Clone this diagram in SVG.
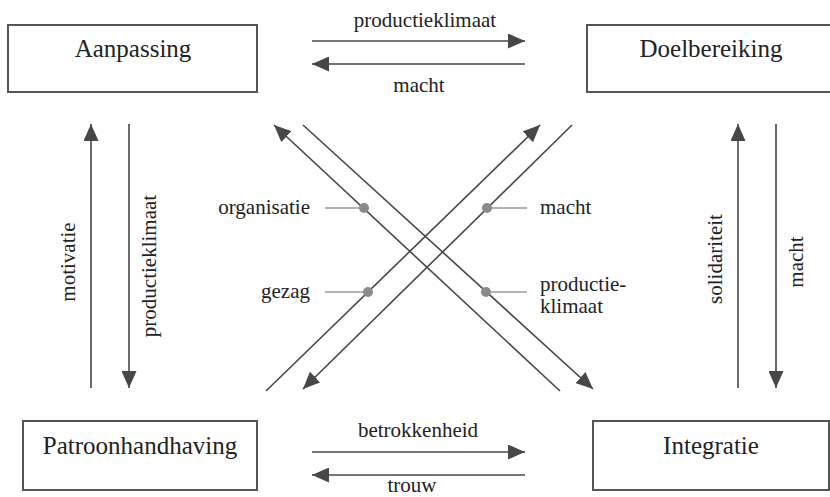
<svg xmlns="http://www.w3.org/2000/svg" width="830" height="497" viewBox="0 0 830 497">
  <style>
    .box { fill: #ffffff; stroke: #555555; stroke-width: 2; }
    text { font-family: "Liberation Serif", "DejaVu Serif", "Times New Roman", serif; fill: #222222; }
    .title { font-size: 25px; text-anchor: middle; }
    .lbl { font-size: 21px; }
    .mid { text-anchor: middle; }
    .end { text-anchor: end; }
    .flow { stroke: #474747; stroke-width: 1.6; fill: none; }
    .arrow { marker-end: url(#head); }
    .lead { stroke: #9a9a9c; stroke-width: 1.6; }
    .dot { fill: #8a8a8d; }
  </style>
  <defs>
    <marker id="head" markerUnits="userSpaceOnUse" markerWidth="17" markerHeight="15" refX="17" refY="7.5" orient="auto">
      <path d="M0,0 L17,7.5 L0,15 Z" fill="#474747"/>
    </marker>
  </defs>

  <rect width="830" height="497" fill="#ffffff"/>

  <!-- four function boxes -->
  <g id="aanpassing">
    <rect class="box" x="8" y="25" width="249" height="67"/>
    <text class="title" x="133" y="57" font-family="Liberation Serif, serif">Aanpassing</text>
  </g>
  <g id="doelbereiking">
    <rect class="box" x="587" y="25" width="250" height="67"/>
    <text class="title" x="711" y="57" font-family="Liberation Serif, serif">Doelbereiking</text>
  </g>
  <g id="patroonhandhaving">
    <rect class="box" x="23" y="421" width="234" height="69"/>
    <text class="title" x="140" y="454" font-family="Liberation Serif, serif">Patroonhandhaving</text>
  </g>
  <g id="integratie">
    <rect class="box" x="593" y="421" width="236" height="69"/>
    <text class="title" x="711" y="454" font-family="Liberation Serif, serif">Integratie</text>
  </g>

  <!-- exchanges between the boxes -->
  <g id="connectors">
    <!-- top pair -->
    <line class="flow arrow" x1="312" y1="41" x2="525" y2="41"/>
    <line class="flow arrow" x1="525" y1="64" x2="312" y2="64"/>
    <!-- bottom pair -->
    <line class="flow arrow" x1="312" y1="452" x2="525" y2="452"/>
    <line class="flow arrow" x1="525" y1="475" x2="312" y2="475"/>
    <!-- left pair -->
    <line class="flow arrow" x1="91" y1="388" x2="91" y2="124"/>
    <line class="flow arrow" x1="129" y1="124" x2="129" y2="388"/>
    <!-- right pair -->
    <line class="flow arrow" x1="738" y1="388" x2="738" y2="124"/>
    <line class="flow arrow" x1="776" y1="124" x2="776" y2="388"/>
    <!-- diagonals -->
    <line class="flow arrow" x1="560" y1="391" x2="274" y2="125"/>
    <line class="flow arrow" x1="303" y1="125" x2="593" y2="389"/>
    <line class="flow arrow" x1="266" y1="391" x2="540" y2="125"/>
    <line class="flow arrow" x1="572" y1="125" x2="303" y2="389"/>
    <!-- leaders to the diagonal labels -->
    <line class="lead" x1="325" y1="208" x2="364" y2="208"/>
    <line class="lead" x1="325" y1="292" x2="368" y2="292"/>
    <line class="lead" x1="487" y1="208" x2="527" y2="208"/>
    <line class="lead" x1="486" y1="292" x2="527" y2="292"/>
    <circle class="dot" cx="364" cy="208" r="5"/>
    <circle class="dot" cx="368" cy="292" r="5"/>
    <circle class="dot" cx="487" cy="208" r="5"/>
    <circle class="dot" cx="486" cy="292" r="5"/>
  </g>

  <!-- labels -->
  <g id="labels">
    <text class="lbl mid" x="425" y="27">productieklimaat</text>
    <text class="lbl mid" x="419" y="92">macht</text>
    <text class="lbl mid" x="418" y="437">betrokkenheid</text>
    <text class="lbl mid" x="412" y="492">trouw</text>
    <text class="lbl mid" transform="translate(75,262) rotate(-90)">motivatie</text>
    <text class="lbl mid" transform="translate(156,266) rotate(-90)">productieklimaat</text>
    <text class="lbl mid" transform="translate(722,259) rotate(-90)">solidariteit</text>
    <text class="lbl mid" transform="translate(803,262) rotate(-90)">macht</text>
    <text class="lbl end" x="310" y="214">organisatie</text>
    <text class="lbl end" x="310" y="298">gezag</text>
    <text class="lbl" x="540" y="214">macht</text>
    <text class="lbl" x="540" y="291">productie-</text>
    <text class="lbl" x="540" y="313">klimaat</text>
  </g>
</svg>
